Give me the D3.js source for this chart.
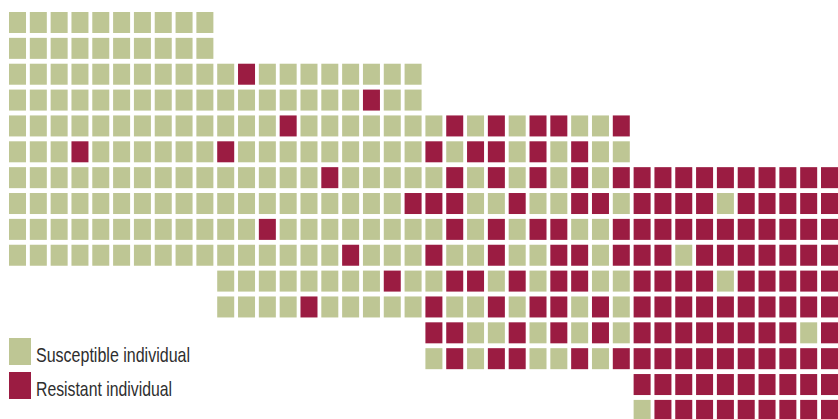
<!DOCTYPE html>
<html>
<head>
<meta charset="utf-8">
<script src="https://cdn.jsdelivr.net/npm/d3@7"></script>
<style>
  html, body { margin: 0; padding: 0; background: #fff; }
  svg { display: block; }
  .legend text { font-family: "Liberation Sans", Arial, sans-serif; fill: #2e2e2e; }
</style>
</head>
<body>
<div id="chart"></div>
<script>
// one string per row, "s" = susceptible, "r" = resistant
const groupA = [
    "ssssssssss",
    "ssssssssss",
    "ssssssssss",
    "ssssssssss",
    "ssssssssss",
    "sssrssssss",
    "ssssssssss",
    "ssssssssss",
    "ssssssssss",
    "ssssssssss"
];
const groupB = [
    "srssssssss",
    "sssssssrss",
    "sssrssssss",
    "rsssssssss",
    "sssssrssss",
    "sssssssssr",
    "ssrsssssss",
    "ssssssrsss",
    "ssssssssrs",
    "ssssrsssss"
];
const groupC = [
    "srsrsrrssr",
    "rsrrsrsrss",
    "srsrsrsrsr",
    "rrssrssrrs",
    "srsrsrrssr",
    "rssrssrrsr",
    "srrsrsrrss",
    "rssrsrrsrs",
    "rrssrsrsrs",
    "srsrrssrsr"
];
const groupD = [
    "rrrrrrrrrr",
    "rrrrsrrrrr",
    "rrrrrrrrrr",
    "rrsrrrrrrr",
    "rrrrsrrrrr",
    "rrrrrrrrrr",
    "rrrrrrrrsr",
    "rrrrrrrrrr",
    "rrrrrrrrrr",
    "srrrrrrrrr"
];
const groups = [groupA, groupB, groupC, groupD];
const legendLabels = ["Susceptible individual", "Resistant individual"];

const width = 838, height = 419;
const colors = {s: "#bec694", r: "#9b1c42"};

const svg = d3.select("#chart").append("svg")
    .attr("width", width)
    .attr("height", height);

// flatten blocks into cells; each block shifts 10 columns right and 2 rows down
let cells = [];
groups.forEach((rows, b) => {
    rows.forEach((row, i) => {
        row.split("").forEach((v, j) => {
            cells.push({col: b * 10 + j, row: b * 2 + i, kind: v});
        });
    });
});

let x = d3.scaleBand()
    .domain(d3.range(40))
    .range([9, 838])
    .paddingInner(0.1835);

let y = d3.scaleBand()
    .domain(d3.range(16))
    .range([12, 12 + 15 * 25.86 + 21])
    .paddingInner(0.188);

svg.append("g")
    .attr("class", "cells")
    .selectAll("rect")
    .data(cells)
    .enter().append("rect")
    .attr("x", d => x(d.col))
    .attr("y", d => y(d.row))
    .attr("width", x.bandwidth())
    .attr("height", y.bandwidth())
    .attr("fill", d => colors[d.kind]);

// legend
let legend = svg.append("g").attr("class", "legend");
let items = legend.selectAll("g")
    .data([{kind: "s", label: legendLabels[0], w: 154}, {kind: "r", label: legendLabels[1], w: 136}])
    .enter().append("g")
    .attr("transform", (d, i) => `translate(9,${338 + i * 34})`);

items.append("rect")
    .attr("width", 22)
    .attr("height", 27)
    .attr("fill", d => colors[d.kind]);

items.append("text")
    .attr("x", 27)
    .attr("y", 23.5)
    .attr("font-size", 21)
    .attr("textLength", d => d.w)
    .attr("lengthAdjust", "spacingAndGlyphs")
    .text(d => d.label);
</script>
</body>
</html>
